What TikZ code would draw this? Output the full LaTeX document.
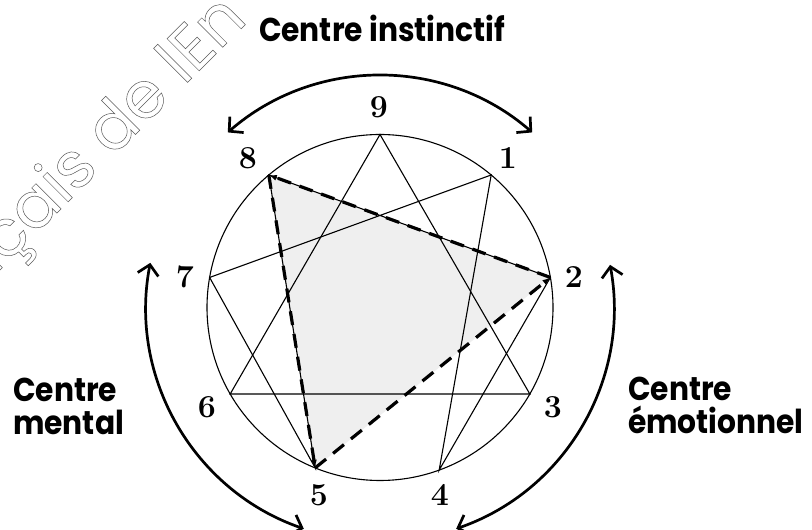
\documentclass[tikz,border=0pt]{standalone}
\usepackage{fontspec}
\usetikzlibrary{arrows.meta,calc}
\newfontfamily\labelfont{Poppins}[FakeStretch=0.9]
\newfontfamily\wmfont{Poppins}
\definecolor{trifill}{HTML}{EFEFEF}
\newcommand{\outlinetext}[1]{\special{pdf:literal direct 1 Tr 0.5 w 0.35 0.35 0.35 RG}#1\special{pdf:literal direct 0 Tr}}
\begin{document}
\begin{tikzpicture}[x=1pt,y=1pt,
  thinline/.style={line width=1.1pt,black},
  dashline/.style={line width=3.2pt,black,dash pattern=on 14pt off 9pt},
  tiptri/.style={-{Latex[length=8pt,width=6pt]}},
  outerarrow/.style={line width=2.7pt,black,{Straight Barb[length=10pt,width=21pt]}-{Straight Barb[length=10pt,width=21pt]}},
  numlabel/.style={font=\fontsize{32}{32}\selectfont\bfseries,inner sep=0pt},
  centrelabel/.style={font=\labelfont\bfseries\fontsize{33}{33}\selectfont,inner sep=0pt,align=left},
  watermark/.style={font=\wmfont\fontsize{65}{65}\selectfont,inner sep=0pt,rotate=45}
]
\useasboundingbox (0,0) rectangle (812,530);
\clip (0,0) rectangle (812,530);
\fill[white] (0,0) rectangle (812,530);

% watermark
\coordinate (wm) at (195.5,455.5);
\node[watermark,anchor=base east] (wmleft) at (wm) {\outlinetext{nçais de l}};
\node[watermark,anchor=base west] (wmright) at (wm) {\outlinetext{En}};

% points
\coordinate (C) at (380,222.5);
\foreach \n/\a in {9/90,1/50,2/10,3/-30,4/-70,5/-112,6/-150,7/170,8/130}
  \coordinate (p\n) at ($(C)+(\a:173pt)$);

% shaded triangle
\fill[trifill] (p8) -- (p2) -- (p5) -- cycle;

% circle
\draw[thinline] (C) circle[radius=173pt];

% hexad and triangle
\draw[thinline] (p1) -- (p4) -- (p2) -- (p8) -- (p5) -- (p7) -- cycle;
\draw[thinline] (p9) -- (p3) -- (p6) -- cycle;

% dashed triangle with arrows
\draw[dashline,tiptri] (p2) -- (p8);
\draw[dashline,tiptri] (p8) -- (p5);
\draw[dashline,tiptri] (p5) -- (p2);

% outer arcs
\coordinate (ta) at ($(C)+(131:232pt)$);
\coordinate (tb) at ($(C)+(49:232pt)$);
\draw[outerarrow] (ta) arc[start angle=131,end angle=49,radius=232pt];
\coordinate (ra) at ($(C)+(10.5:234pt)$);
\coordinate (rb) at ($(C)+(-71:234pt)$);
\draw[outerarrow] (ra) arc[start angle=10.5,end angle=-71,radius=234pt];
\coordinate (la) at ($(C)+(169:234pt)$);
\coordinate (lb) at ($(C)+(251:234pt)$);
\draw[outerarrow] (la) arc[start angle=169,end angle=251,radius=234pt];

% numbers
\node[numlabel] (n9) at (379,423) {9};
\node[numlabel] (n8) at (248,372) {8};
\node[numlabel] (n1) at (508,372) {1};
\node[numlabel] (n2) at (574,253) {2};
\node[numlabel] (n7) at (185,253) {7};
\node[numlabel] (n6) at (207,123) {6};
\node[numlabel] (n3) at (553,123) {3};
\node[numlabel] (n5) at (319,35) {5};
\node[numlabel] (n4) at (440,35) {4};

% centre labels
\node[centrelabel,anchor=base] (ci) at (382,488) {Centre instinctif};
\node[centrelabel,anchor=base west] (cm) at (13,95) {Centre\\mental};
\node[centrelabel,anchor=base west] (ce) at (628,96) {Centre\\émotionnel};
\end{tikzpicture}
\end{document}
